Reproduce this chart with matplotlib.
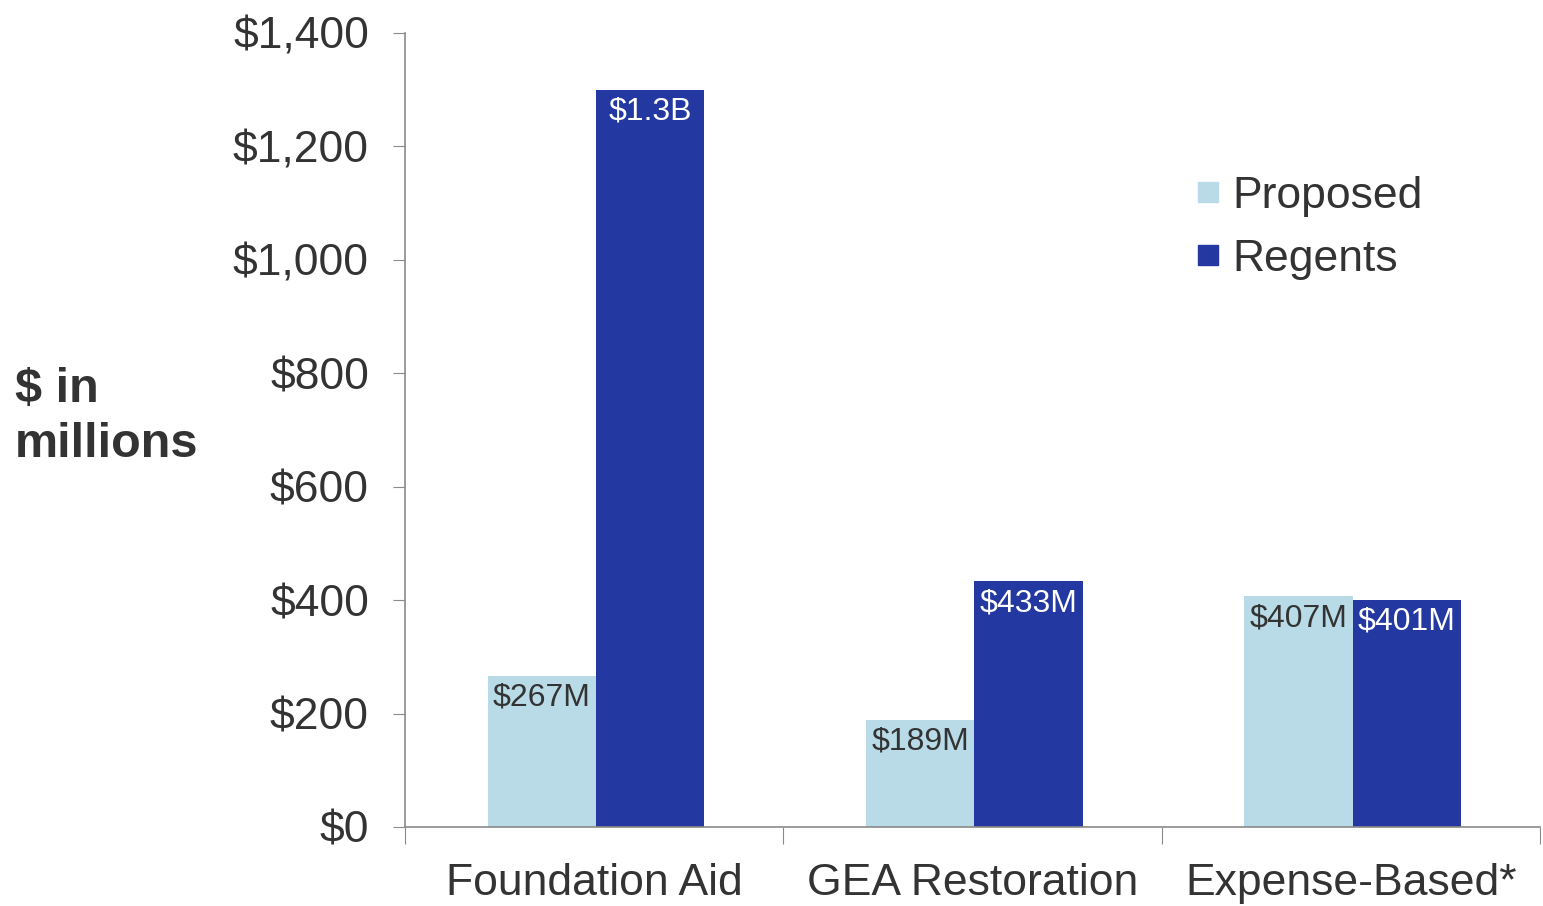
import matplotlib
matplotlib.use("Agg")
import matplotlib.pyplot as plt
from matplotlib.lines import Line2D
import numpy as np

plt.rcParams['font.family'] = ['Liberation Sans', 'DejaVu Sans']

categories = ['Foundation Aid', 'GEA Restoration', 'Expense-Based*']
proposed = [267, 189, 407]
regents = [1300, 433, 401]
proposed_labels = ['$267M', '$189M', '$407M']
regents_labels = ['$1.3B', '$433M', '$401M']
yticks = [0, 200, 400, 600, 800, 1000, 1200, 1400]

light = '#b8dbe7'
dark = '#2338a0'
txt = '#333333'
spine = '#8a8a8a'

fig = plt.figure(figsize=(15.43, 9.06), dpi=100)
ax = fig.add_axes([0.2625, 0.0872, 0.7355, 0.8764])

x = np.arange(len(categories))
w = 0.286
b1 = ax.bar(x - w / 2 + 0.005, proposed, w, color=light, zorder=2)
b2 = ax.bar(x + w / 2 + 0.005, regents, w, color=dark, zorder=2)

for rect, lab in zip(b1, proposed_labels):
    ax.annotate(lab, (rect.get_x() + rect.get_width() / 2, rect.get_height()),
                xytext=(0, -5), textcoords='offset points', ha='center', va='top',
                fontsize=23, color=txt, zorder=3)
for rect, lab in zip(b2, regents_labels):
    ax.annotate(lab, (rect.get_x() + rect.get_width() / 2, rect.get_height()),
                xytext=(0, -5), textcoords='offset points', ha='center', va='top',
                fontsize=23, color='white', zorder=3)

ax.set_xlim(-0.5, 2.5)
ax.set_ylim(0, 1400)
ax.set_yticks(yticks)
ax.set_yticklabels(['${:,}'.format(v) for v in yticks])
ax.set_xticks([-0.5, 0.5, 1.5, 2.5])
ax.set_xticklabels([])
ax.set_xticks(x, minor=True)
ax.set_xticklabels(categories, minor=True)
ax.tick_params(axis='x', which='major', length=12, color=spine, direction='out')
ax.tick_params(axis='x', which='minor', length=0, labelsize=32, labelcolor=txt, pad=26)
ax.tick_params(axis='y', length=9, color=spine, labelsize=32, labelcolor=txt, pad=17)

for s in ['top', 'right']:
    ax.spines[s].set_visible(False)
for s in ['left', 'bottom']:
    ax.spines[s].set_color(spine)
    ax.spines[s].set_linewidth(1.2)

fig.text(15 / 1543, 1 - 417 / 906, '$ in\nmillions', fontsize=35, fontweight='bold',
         color=txt, ha='left', va='center', linespacing=1.28)

handles = [Line2D([], [], marker='s', linestyle='none', markersize=14, color=light),
           Line2D([], [], marker='s', linestyle='none', markersize=14, color=dark)]
leg = fig.legend(handles, ['Proposed', 'Regents'], loc='upper left',
                 bbox_to_anchor=(1197 / 1543, 1 - 176 / 906), frameon=False,
                 fontsize=32, handlelength=0.5, handletextpad=0.3, labelspacing=0.49,
                 borderpad=0, borderaxespad=0)
for t in leg.get_texts():
    t.set_color(txt)

fig.savefig('out.png', dpi=100)
